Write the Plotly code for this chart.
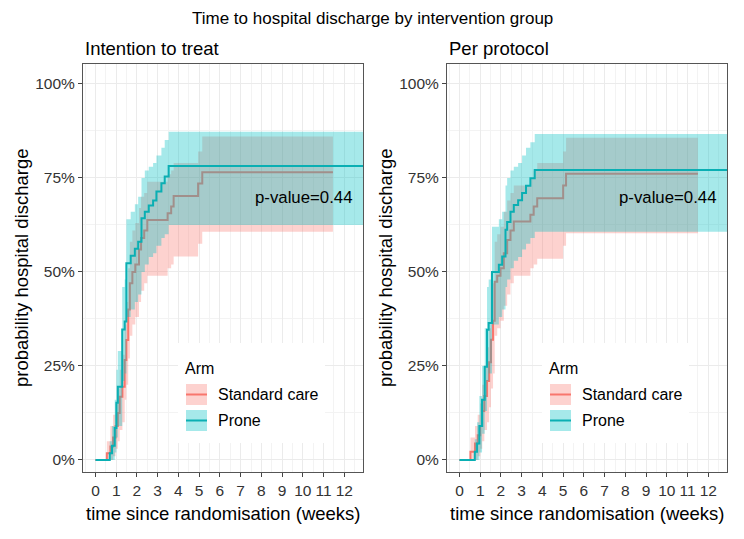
import plotly.graph_objects as go

W, H = 744, 539

# ---------------- data ----------------
# Intention to treat – Prone
itt_prone_t = [0, 0.69, 0.80, 0.93, 1.01, 1.08, 1.29, 1.41, 1.49, 1.70, 1.90, 2.06, 2.22, 2.38, 2.57, 2.78, 2.94, 3.18, 3.34, 3.53]
itt_prone_est = [0, .018, .038, .085, .152, .195, .347, .368, .523, .543, .562, .58, .643, .66, .677, .69, .714, .736, .754, .782]
itt_prone_lo = [0, 0, 0, .02, .06, .09, .21, .23, .38, .40, .42, .44, .50, .52, .54, .55, .57, .59, .60, .625]
itt_prone_hi = [0, .05, .09, .16, .24, .29, .46, .48, .64, .66, .68, .70, .75, .77, .78, .79, .81, .83, .851, .873]
itt_prone_end = 13.5

# Intention to treat – Standard care
itt_std_t = [0, 0.55, 0.72, 0.85, 0.97, 1.08, 1.17, 1.30, 1.41, 1.49, 1.58, 1.66, 1.78, 1.92, 2.10, 2.20, 2.35, 2.50, 3.48, 3.65, 3.77, 4.95, 5.15]
itt_std_est = [0, .018, .036, .06, .09, .125, .168, .195, .266, .319, .40, .47, .50, .52, .56, .59, .61, .638, .656, .674, .702, .735, .765]
itt_std_lo = [0, 0, 0, .01, .03, .05, .08, .10, .16, .20, .27, .33, .36, .38, .42, .45, .47, .49, .51, .52, .541, .575, .607]
itt_std_hi = [0, .05, .09, .12, .15, .19, .24, .28, .36, .42, .51, .58, .61, .63, .67, .70, .71, .74, .76, .77, .79, .82, .86]
itt_std_end = 11.45

# Per protocol – Prone
pp_prone_t = [0, 0.74, 0.85, 0.96, 1.09, 1.22, 1.33, 1.41, 1.57, 1.90, 2.06, 2.22, 2.30, 2.46, 2.62, 2.83, 3.02, 3.21, 3.42, 3.63]
pp_prone_est = [0, .022, .044, .09, .16, .248, .346, .364, .50, .519, .541, .612, .633, .66, .678, .691, .71, .729, .749, .771]
pp_prone_lo = [0, 0, 0, .02, .07, .13, .21, .23, .36, .38, .40, .46, .48, .51, .53, .54, .56, .575, .59, .607]
pp_prone_hi = [0, .055, .10, .17, .25, .35, .46, .48, .62, .64, .66, .73, .75, .77, .78, .79, .81, .83, .845, .867]
pp_prone_end = 13.5

# Per protocol – Standard care
pp_std_t = [0, 0.53, 0.75, 0.88, 1.00, 1.10, 1.20, 1.33, 1.43, 1.52, 1.62, 1.70, 1.82, 1.98, 2.14, 2.30, 2.46, 2.62, 3.42, 3.58, 3.75, 5.00, 5.14]
pp_std_est = [0, .022, .044, .066, .09, .13, .17, .21, .26, .32, .37, .474, .49, .51, .55, .585, .61, .634, .652, .674, .696, .73, .761]
pp_std_lo = [0, 0, 0, .01, .03, .05, .08, .10, .14, .19, .23, .33, .35, .37, .41, .44, .47, .49, .51, .52, .535, .57, .603]
pp_std_hi = [0, .06, .09, .12, .15, .20, .25, .30, .35, .42, .47, .58, .60, .62, .66, .69, .71, .73, .75, .77, .79, .82, .857]
pp_std_end = 11.5

x_ticks = list(range(0, 13))
y_ticks = [0, 0.25, 0.5, 0.75, 1.0]
y_tick_labels = ["0%", "25%", "50%", "75%", "100%"]
p_values = ["p-value=0.44", "p-value=0.44"]
panel_titles = ["Intention to treat", "Per protocol"]
arms = ["Standard care", "Prone"]

# ---------------- styling ----------------
RED = "#F8766D"
TEAL = "#0AAFB3"
RED_FILL = "rgba(248,118,109,0.33)"
TEAL_FILL = "rgba(0,191,196,0.35)"
FONT = "Liberation Sans, Arial, sans-serif"


def ext(t, v, end):
    return list(t) + [end], list(v) + [v[-1]]


def px(x):
    return x / W


def py(y):
    return 1 - y / H


fig = go.Figure()

panels = [
    ("x", "y", (itt_std_t, itt_std_est, itt_std_lo, itt_std_hi, itt_std_end),
     (itt_prone_t, itt_prone_est, itt_prone_lo, itt_prone_hi, itt_prone_end)),
    ("x2", "y2", (pp_std_t, pp_std_est, pp_std_lo, pp_std_hi, pp_std_end),
     (pp_prone_t, pp_prone_est, pp_prone_lo, pp_prone_hi, pp_prone_end)),
]

for xa, ya, std, prone in panels:
    for (t, est, lo, hi, end), col, fillc in [(std, RED, RED_FILL), (prone, TEAL, TEAL_FILL)]:
        tx, lov = ext(t, lo, end)
        _, hiv = ext(t, hi, end)
        _, estv = ext(t, est, end)
        fig.add_trace(go.Scatter(x=tx, y=lov, mode="lines", line=dict(width=0, shape="hv"),
                                 xaxis=xa, yaxis=ya, hoverinfo="skip", showlegend=False))
        fig.add_trace(go.Scatter(x=tx, y=hiv, mode="lines", line=dict(width=0, shape="hv"),
                                 fill="tonexty", fillcolor=fillc,
                                 xaxis=xa, yaxis=ya, hoverinfo="skip", showlegend=False))
        fig.add_trace(go.Scatter(x=tx, y=estv, mode="lines", line=dict(width=2, shape="hv", color=col),
                                 xaxis=xa, yaxis=ya, showlegend=False))

# panel geometry in pixels
panel_px = [(83, 363), (447, 727)]
top_px, bot_px = 64, 472

axis_common = dict(
    showgrid=True, gridcolor="#EBEBEB", gridwidth=1,
    zeroline=False, showline=True, mirror=True, linecolor="#555555", linewidth=1,
    ticks="outside", ticklen=4, tickcolor="#444444",
    tickfont=dict(family=FONT, size=15.5, color="#333333"),
)

layout = dict(
    width=W, height=H,
    margin=dict(l=0, r=0, t=0, b=0),
    paper_bgcolor="white", plot_bgcolor="white",
    showlegend=False,
    font=dict(family=FONT, color="black"),
)

for i, (x0, x1) in enumerate(panel_px):
    sfx = "" if i == 0 else "2"
    layout["xaxis" + sfx] = dict(
        axis_common, domain=[px(x0), px(x1)], range=[-0.6, 12.9],
        tickvals=x_ticks, ticktext=[str(v) for v in x_ticks],
        minor=dict(dtick=0.5, tick0=0, showgrid=True, gridcolor="#F3F3F3", gridwidth=1, ticks=""),
        anchor="y" + sfx,
    )
    layout["yaxis" + sfx] = dict(
        axis_common, domain=[py(bot_px), py(top_px)], range=[-0.032, 1.053],
        tickvals=y_ticks, ticktext=y_tick_labels,
        minor=dict(dtick=0.125, tick0=0, showgrid=True, gridcolor="#F3F3F3", gridwidth=1, ticks=""),
        anchor="x" + sfx,
    )

fig.update_layout(**layout)

ann = []
shapes = []
ann.append(dict(text="Time to hospital discharge by intervention group", x=px(372), y=py(19),
                xref="paper", yref="paper", showarrow=False, xanchor="center", yanchor="middle",
                font=dict(family=FONT, size=17, color="black")))

for i, (x0, x1) in enumerate(panel_px):
    sfx = "" if i == 0 else "2"
    off = x0 - panel_px[0][0]
    ann.append(dict(text=panel_titles[i], x=px(x0), y=py(48), xref="paper", yref="paper",
                    showarrow=False, xanchor="left", yanchor="middle",
                    font=dict(family=FONT, size=18.5, color="black")))
    ann.append(dict(text="probability hospital discharge", x=px(21 + off), y=py(268),
                    xref="paper", yref="paper", showarrow=False, textangle=-90,
                    xanchor="center", yanchor="middle",
                    font=dict(family=FONT, size=18.5, color="black")))
    ann.append(dict(text="time since randomisation (weeks)", x=px((x0 + x1) / 2), y=py(513),
                    xref="paper", yref="paper", showarrow=False, xanchor="center", yanchor="middle",
                    font=dict(family=FONT, size=18.5, color="black")))
    ann.append(dict(text=p_values[i], x=12.5, y=0.697, xref="x" + sfx, yref="y" + sfx,
                    showarrow=False, xanchor="right", yanchor="middle",
                    font=dict(family=FONT, size=16.8, color="black")))
    # legend box
    shapes.append(dict(type="rect", xref="paper", yref="paper", layer="above",
                       x0=px(178 + off), x1=px(325 + off), y0=py(443), y1=py(343),
                       fillcolor="white", line=dict(width=0)))
    ann.append(dict(text="Arm", x=px(183 + off), y=py(368), xref="paper", yref="paper",
                    showarrow=False, xanchor="left", yanchor="middle",
                    font=dict(family=FONT, size=16, color="black")))
    for j, (lab, col, fillc) in enumerate([(arms[0], RED, RED_FILL), (arms[1], TEAL, TEAL_FILL)]):
        yc = 394.5 + j * 26
        shapes.append(dict(type="rect", xref="paper", yref="paper", layer="above",
                           x0=px(186 + off), x1=px(207 + off), y0=py(yc + 10.5), y1=py(yc - 10.5),
                           fillcolor=fillc, line=dict(width=0)))
        shapes.append(dict(type="line", xref="paper", yref="paper", layer="above",
                           x0=px(186 + off), x1=px(207 + off), y0=py(yc), y1=py(yc),
                           line=dict(color=col, width=2)))
        ann.append(dict(text=lab, x=px(216 + off), y=py(yc), xref="paper", yref="paper",
                        showarrow=False, xanchor="left", yanchor="middle",
                        font=dict(family=FONT, size=16, color="black")))

fig.update_layout(annotations=ann, shapes=shapes)
fig.write_html("out.html", config={"displayModeBar": False},
               post_script="document.body.style.margin='0';document.body.style.padding='0';")
